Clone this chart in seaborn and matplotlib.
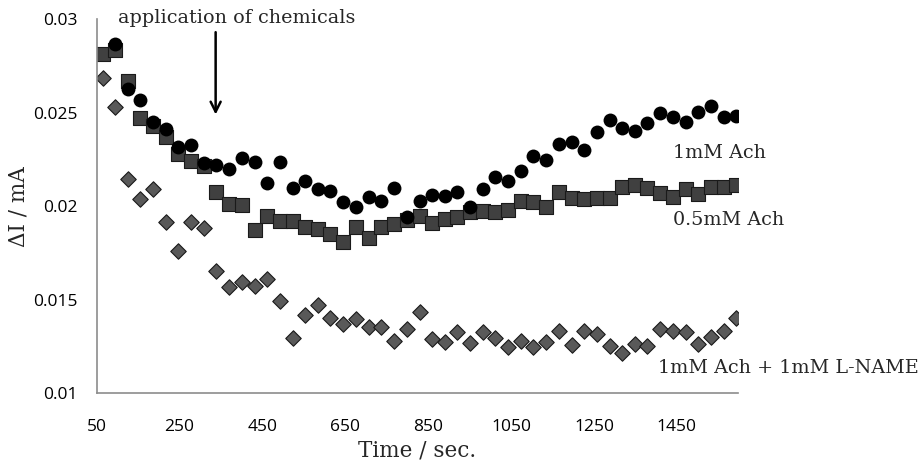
import numpy as np
import matplotlib
matplotlib.use("Agg")
import matplotlib.pyplot as plt
import seaborn as sns
import pandas as pd

# time points (sec)
time_s = [64, 94, 125, 155, 186, 217, 247, 278, 308, 339, 370, 400, 431, 461,
          492, 523, 553, 584, 614, 645, 676, 706, 737, 767, 798, 829, 859, 890,
          920, 951, 982, 1012, 1043, 1073, 1104, 1135, 1165, 1196, 1226, 1257,
          1288, 1318, 1349, 1379, 1410, 1441, 1471, 1502, 1532, 1563, 1594]

# delta I (mA) for each condition
ach_1mm = [np.nan, 0.02868, 0.02626, 0.02568, 0.02452, 0.02412, 0.02319, 0.02328,
           0.02230, 0.02221, 0.02199, 0.02257, 0.02235, 0.02126, 0.02239, 0.02096,
           0.02137, 0.02093, 0.02082, 0.02021, 0.01996, 0.02051, 0.02028, 0.02098,
           0.01944, 0.02030, 0.02059, 0.02057, 0.02075, 0.01998, 0.02093, 0.02155,
           0.02137, 0.02190, 0.02269, 0.02248, 0.02332, 0.02346, 0.02301, 0.02399,
           0.02461, 0.02417, 0.02403, 0.02444, 0.02497, 0.02476, 0.02452, 0.02503,
           0.02538, 0.02479, 0.02484]
ach_05mm = [0.02814, 0.02836, 0.02672, 0.02474, 0.02429, 0.02369, 0.02280, 0.02244,
            0.02217, 0.02075, 0.02012, 0.02005, 0.01873, 0.01950, 0.01923, 0.01923,
            0.01888, 0.01879, 0.01852, 0.01811, 0.01891, 0.01829, 0.01891, 0.01904,
            0.01927, 0.01948, 0.01909, 0.01930, 0.01941, 0.01968, 0.01975, 0.01971,
            0.01980, 0.02030, 0.02023, 0.01995, 0.02076, 0.02043, 0.02037, 0.02043,
            0.02043, 0.02105, 0.02114, 0.02096, 0.02070, 0.02051, 0.02093, 0.02066,
            0.02105, 0.02102, 0.02114]
ach_lname = [0.02684, 0.02529, 0.02144, 0.02039, 0.02093, 0.01914, 0.01761, 0.01914,
             0.01886, 0.01652, 0.01567, 0.01594, 0.01574, 0.01611, 0.01494, 0.01294,
             0.01419, 0.01471, 0.01401, 0.01369, 0.01396, 0.01356, 0.01356, 0.01281,
             0.01344, 0.01433, 0.01290, 0.01276, 0.01326, 0.01269, 0.01326, 0.01294,
             0.01249, 0.01280, 0.01249, 0.01273, 0.01335, 0.01258, 0.01335, 0.01316,
             0.01253, 0.01214, 0.01264, 0.01255, 0.01344, 0.01335, 0.01330, 0.01264,
             0.01303, 0.01335, 0.01404]

x_ticks = [50, 250, 450, 650, 850, 1050, 1250, 1450]
y_ticks = [0.01, 0.015, 0.02, 0.025, 0.03]
y_ticklabels = ["0.01", "0.015", "0.02", "0.025", "0.03"]

df = pd.DataFrame({"time": time_s, "ach1": ach_1mm, "ach05": ach_05mm, "lname": ach_lname})

sns.set_style("white")
serif = ["DejaVu Serif"]
sans = ["Open Sans", "DejaVu Sans"]

fig = plt.figure(figsize=(9.22, 4.61), dpi=100)
ax = fig.add_axes([0.1049, 0.1469, 0.6957, 0.8112])

sns.scatterplot(data=df, x="time", y="lname", ax=ax, marker="D", s=62,
                color="#595959", edgecolor="#1a1a1a", linewidth=0.8)
sns.scatterplot(data=df, x="time", y="ach05", ax=ax, marker="s", s=95,
                color="#404040", edgecolor="#1a1a1a", linewidth=0.8)
sns.scatterplot(data=df, x="time", y="ach1", ax=ax, marker="o", s=100,
                color="black", edgecolor="black", linewidth=0)

ax.set_xlim(50, 1598)
ax.set_ylim(0.01, 0.03)
ax.set_xticks(x_ticks)
ax.set_yticks(y_ticks)
ax.set_xticklabels([str(t) for t in x_ticks], family=sans, fontsize=12.5)
ax.set_yticklabels(y_ticklabels, family=sans, fontsize=12.5)
ax.tick_params(axis="both", direction="out", length=4.5, width=1, color="#8c8c8c",
               labelcolor="black")
ax.tick_params(axis="y", pad=9)
ax.tick_params(axis="x", pad=14)
for side in ["top", "right"]:
    ax.spines[side].set_visible(False)
for side in ["left", "bottom"]:
    ax.spines[side].set_color("#8c8c8c")
    ax.spines[side].set_linewidth(1.2)

ax.set_xlabel("Time / sec.", family=serif, fontsize=15.5, labelpad=3)
ax.set_ylabel("ΔI / mA", family=serif, fontsize=15.5)
ax.yaxis.set_label_coords(-0.105, 0.5)

# series labels
ax.text(1440, 0.02258, "1mM Ach", family=serif, fontsize=13.8, va="baseline")
ax.text(1440, 0.0190, "0.5mM Ach", family=serif, fontsize=13.8, va="baseline")
ax.text(1405, 0.01107, "1mM Ach + 1mM L-NAME", family=serif, fontsize=13.8,
        va="baseline", clip_on=False)

# chemicals arrow
ax.annotate("", xy=(337, 0.02476), xytext=(337, 0.02946),
            arrowprops=dict(arrowstyle="->", color="black", lw=1.8,
                            mutation_scale=18))
ax.text(388, 0.02982, "application of chemicals", family=serif, fontsize=13.8,
        ha="center", va="baseline", clip_on=False)

fig.savefig("out.png", dpi=100)
